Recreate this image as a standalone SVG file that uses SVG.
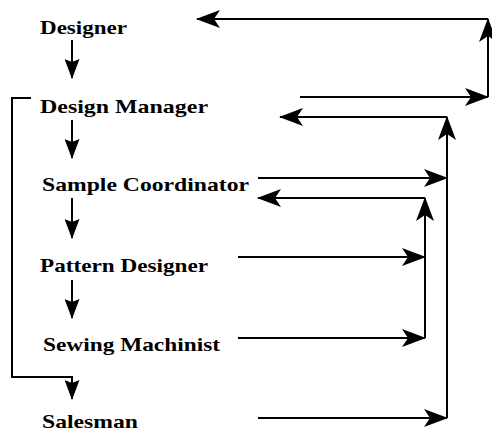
<svg xmlns="http://www.w3.org/2000/svg" width="492" height="432" viewBox="0 0 492 432">
<defs>
<style>
.lbl{font-family:"Liberation Serif","Times New Roman",serif;font-size:19px;font-weight:bold;fill:#000}
.ln{fill:none;stroke:#000;stroke-width:2}
.big{marker-end:url(#big)}
.sm{marker-end:url(#sm)}
</style>
<marker id="big" viewBox="0 0 24 18" refX="23" refY="9" markerWidth="24" markerHeight="18" markerUnits="userSpaceOnUse" orient="auto">
<path d="M0,0 L24,9 L0,18 L6,9 Z" fill="#000"/>
</marker>
<marker id="sm" viewBox="0 0 20 15" refX="19" refY="7.5" markerWidth="20" markerHeight="15" markerUnits="userSpaceOnUse" orient="auto">
<path d="M0,0 L20,7.5 L0,15 L3,7.5 Z" fill="#000"/>
</marker>
</defs>
<rect width="492" height="432" fill="#fff"/>
<g id="connectors">
<path class="ln sm" d="M72,40 V78"/>
<path class="ln sm" d="M72,120 V158"/>
<path class="ln sm" d="M72,198 V238"/>
<path class="ln sm" d="M72,280 V318"/>
<path class="ln sm" d="M31,98 H12 V377 H72 V399"/>
<path class="ln big" d="M300,97 H488"/>
<path class="ln big" d="M488,97 V19"/>
<path class="ln big" d="M488,19 H197"/>
<path class="ln big" d="M258,178 H447"/>
<path class="ln big" d="M258,418 H447"/>
<path class="ln big" d="M447,418 V117"/>
<path class="ln big" d="M447,117 H280"/>
<path class="ln big" d="M238,257 H425"/>
<path class="ln big" d="M238,338 H425"/>
<path class="ln big" d="M425,338 V198"/>
<path class="ln big" d="M425,198 H258"/>
</g>
<g id="designer"><text class="lbl" x="40" y="34" textLength="87" lengthAdjust="spacingAndGlyphs">Designer</text></g>
<g id="design-manager"><text class="lbl" x="40" y="113" textLength="168" lengthAdjust="spacingAndGlyphs">Design Manager</text></g>
<g id="sample-coordinator"><text class="lbl" x="42" y="191" textLength="207" lengthAdjust="spacingAndGlyphs">Sample Coordinator</text></g>
<g id="pattern-designer"><text class="lbl" x="40" y="272" textLength="168" lengthAdjust="spacingAndGlyphs">Pattern Designer</text></g>
<g id="sewing-machinist"><text class="lbl" x="43" y="351" textLength="177" lengthAdjust="spacingAndGlyphs">Sewing Machinist</text></g>
<g id="salesman"><text class="lbl" x="42" y="428" textLength="96" lengthAdjust="spacingAndGlyphs">Salesman</text></g>
</svg>
